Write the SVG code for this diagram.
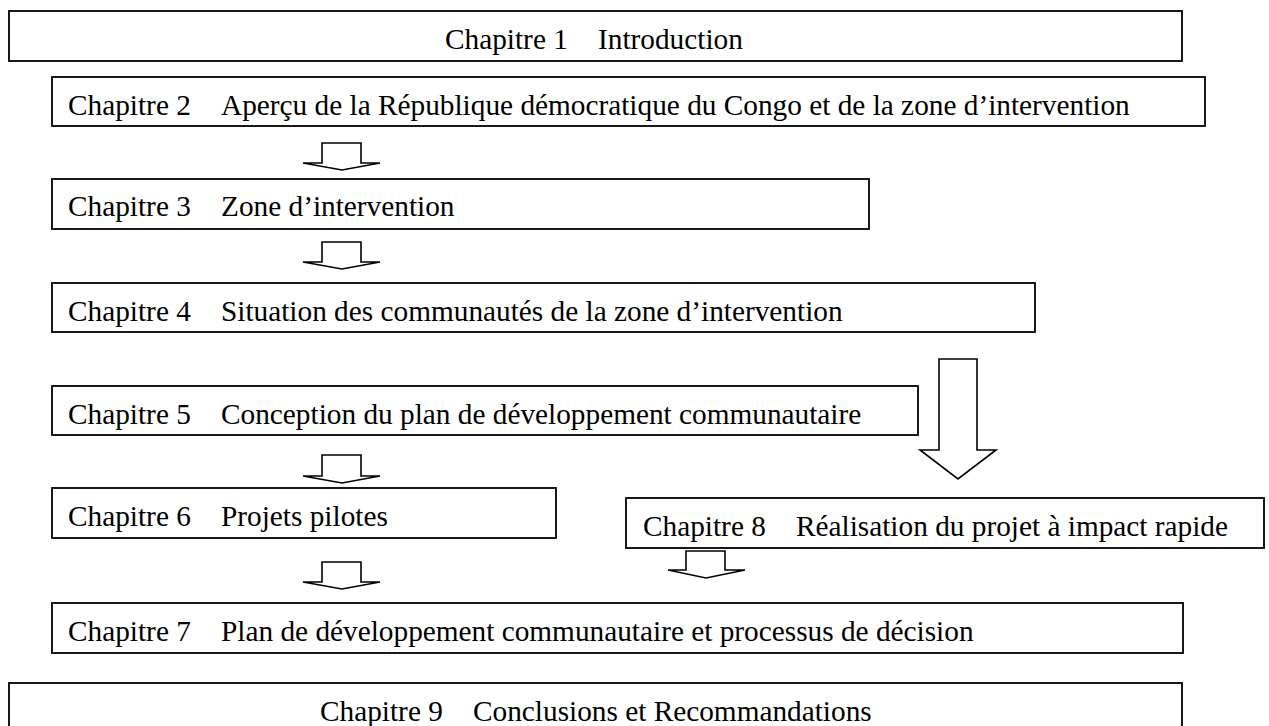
<svg xmlns="http://www.w3.org/2000/svg" width="1269" height="726" viewBox="0 0 1269 726">
<style>
.box{fill:#fff;stroke:#000;stroke-width:1.8}
.arr{fill:#fff;stroke:#000;stroke-width:1.6;stroke-linejoin:miter}
.t{font-family:"Liberation Serif","Times New Roman",serif;font-size:29.3px;fill:#000}
</style>
<rect width="1269" height="726" fill="#fff"/>
<g id="connectors">
<path class="arr" d="M322,143 H361 V163 H380 L342,170 L303,163 H322 Z"/>
<path class="arr" d="M322,242 H361 V262 H380 L342,269 L303,262 H322 Z"/>
<path class="arr" d="M322,455 H361 V476 H380 L342,483 L303,476 H322 Z"/>
<path class="arr" d="M322,562 H361 V582 H380 L342,589 L303,582 H322 Z"/>
<path class="arr" d="M939,359 H977 V450 H996 L958,479 L920,450 H939 Z"/>
<path class="arr" d="M686,551 H725 V570 H745 L706,578 L668,570 H686 Z"/>
</g>
<g id="ch1"><rect class="box" x="9" y="11" width="1173" height="50"/><text class="t" y="49"><tspan x="445">Chapitre 1</tspan><tspan x="598">Introduction</tspan></text></g>
<g id="ch2"><rect class="box" x="52" y="77" width="1153" height="49"/><text class="t" y="115"><tspan x="68">Chapitre 2</tspan><tspan x="221">Aperçu de la République démocratique du Congo et de la zone d’intervention</tspan></text></g>
<g id="ch3"><rect class="box" x="52" y="179" width="817" height="50"/><text class="t" y="216"><tspan x="68">Chapitre 3</tspan><tspan x="221">Zone d’intervention</tspan></text></g>
<g id="ch4"><rect class="box" x="52" y="283" width="983" height="49"/><text class="t" y="321"><tspan x="68">Chapitre 4</tspan><tspan x="221">Situation des communautés de la zone d’intervention</tspan></text></g>
<g id="ch5"><rect class="box" x="52" y="386" width="866" height="49"/><text class="t" y="424"><tspan x="68">Chapitre 5</tspan><tspan x="221">Conception du plan de développement communautaire</tspan></text></g>
<g id="ch6"><rect class="box" x="52" y="488" width="504" height="50"/><text class="t" y="526"><tspan x="68">Chapitre 6</tspan><tspan x="221">Projets pilotes</tspan></text></g>
<g id="ch8"><rect class="box" x="626" y="498" width="638" height="50"/><text class="t" y="536"><tspan x="643">Chapitre 8</tspan><tspan x="796">Réalisation du projet à impact rapide</tspan></text></g>
<g id="ch7"><rect class="box" x="52" y="603" width="1131" height="50"/><text class="t" y="641"><tspan x="68">Chapitre 7</tspan><tspan x="221">Plan de développement communautaire et processus de décision</tspan></text></g>
<g id="ch9"><rect class="box" x="9" y="683" width="1173" height="50"/><text class="t" y="721"><tspan x="320">Chapitre 9</tspan><tspan x="473">Conclusions et Recommandations</tspan></text></g>
</svg>
